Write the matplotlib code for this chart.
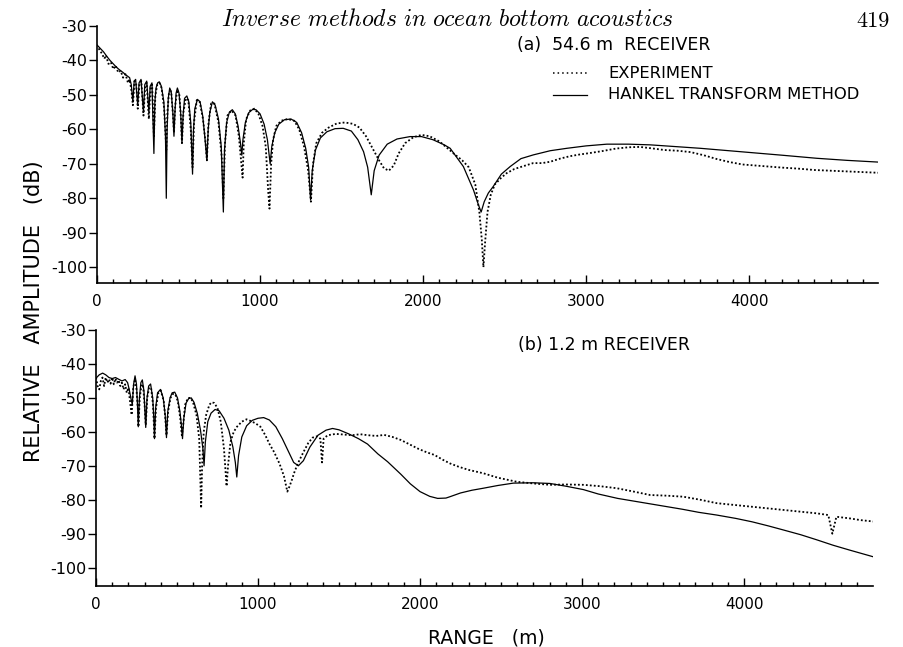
import matplotlib
matplotlib.use("Agg")
import matplotlib.pyplot as plt
import matplotlib.ticker as ticker
from matplotlib.lines import Line2D

plt.rcParams['axes.unicode_minus'] = False
plt.rcParams['font.family'] = ['DejaVu Sans']

# (a) 54.6 m receiver -- Hankel transform result
hankel_a_r = [0, 20, 40, 60, 80, 100, 120, 140, 160, 180, 200,
              210, 220, 228, 237, 250, 258, 270, 285, 293, 305, 318, 326, 337,
              349, 355, 362, 372, 382, 395, 410, 420, 425, 430, 437, 446, 455,
              465, 472, 478, 485, 493, 503, 513, 521, 528, 537, 551, 563, 575,
              586, 592, 600, 616, 632, 648, 661, 674, 682, 692, 708, 725, 745,
              762, 775, 782, 795, 812, 830, 848, 865, 880, 888, 895, 910, 930,
              955, 975, 1000, 1025, 1045, 1062, 1072, 1090, 1115, 1150, 1190,
              1225, 1255, 1280, 1298, 1310, 1320, 1340, 1370, 1410, 1460, 1510,
              1560, 1600, 1635, 1660, 1682, 1700, 1730, 1780, 1840, 1920, 1990,
              2060, 2130, 2166, 2247, 2309, 2340, 2356, 2375, 2400, 2430, 2480,
              2534, 2600, 2677, 2780, 2882, 3000, 3127, 3260, 3393, 3550, 3700,
              3850, 4006, 4200, 4415, 4600, 4790]
hankel_a_db = [-35.5, -36.5, -37.5, -38.8, -40.0, -41.0, -42.0, -42.8, -43.5, -44.3, -45.0,
               -47, -52, -46, -45.5, -53, -46.5, -45.5, -55, -47, -46, -55, -47.5, -46.5,
               -67, -52, -48, -46.5, -46.2, -47.5, -52, -62, -80, -60, -51, -48, -49,
               -55, -62, -55, -49.5, -48, -49.5, -55, -64, -56, -51, -50.3, -52, -58,
               -73, -60, -54, -51.3, -52, -56, -62, -69, -60, -55, -52, -53, -57,
               -65, -84, -66, -58, -55, -54.3, -55.5, -59, -64, -67.5, -63, -58, -55.2,
               -54.2, -54.3, -55.5, -58.5, -63, -70, -65, -61, -58.5, -57.2, -57,
               -58, -61, -65.5, -71, -80.5, -72, -66, -62.5, -60.7, -59.8, -59.7,
               -60.5, -63, -66.5, -71, -79, -72, -67.5, -64.3, -62.8, -62.1, -62.1,
               -63, -64.5, -65.5, -70.8, -77.6, -82, -84, -81, -78.5, -76.6, -73,
               -70.8, -68.5, -67.4, -66.2, -65.5, -64.8, -64.3, -64.3, -64.5, -65, -65.5,
               -66.1, -66.7, -67.5, -68.4, -69, -69.5]

# (a) 54.6 m receiver -- measured
exp_a_r = [10, 30, 45, 55, 70, 85, 100, 115, 130, 145, 160, 175, 190, 200,
           212, 220, 230, 240, 250, 260, 272, 285, 295, 305, 318, 328, 338,
           349, 358, 370, 383, 396, 412, 425, 432, 442, 455, 466, 472, 480,
           492, 505, 515, 521, 530, 545, 560, 575, 586, 595, 612, 630, 650,
           666, 674, 684, 700, 720, 745, 765, 775, 785, 800, 825, 850, 870,
           885, 893, 900, 915, 940, 965, 990, 1015, 1035, 1050, 1058, 1068,
           1080, 1100, 1130, 1170, 1210, 1240, 1270, 1295, 1312, 1325, 1345,
           1380, 1420, 1470, 1520, 1570, 1610, 1650, 1690, 1730, 1760, 1790,
           1820, 1850, 1890, 1940, 1990, 2040, 2100, 2150, 2200, 2240, 2280,
           2320, 2345, 2360, 2370, 2380, 2395, 2415, 2440, 2480, 2513, 2560,
           2620, 2675, 2730, 2780, 2840, 2900, 2960, 3020, 3100, 3180, 3260,
           3330, 3400, 3480, 3560, 3640, 3720, 3800, 3880, 3960, 4040, 4120,
           4200, 4300, 4400, 4500, 4600, 4700, 4790]
exp_a_db = [-36.5, -38, -39.5, -38.5, -41, -40.5, -42.5, -41.5, -43.5, -43, -45, -44, -46.5, -45.5,
            -49, -53, -46, -46.5, -54, -47, -46, -56, -48, -46.5, -57, -48, -47,
            -62, -50, -47, -46.5, -48, -54, -66, -55, -49, -49, -56, -61, -53,
            -48.5, -50, -57, -64, -55, -51, -51.5, -60, -71, -58, -51.5, -52, -57,
            -64, -69, -58, -52.5, -52.5, -58, -68, -80, -64, -56, -54.5, -56, -62,
            -70, -74, -64, -57, -54.5, -54, -55.5, -59, -65, -78, -83, -70,
            -63, -59, -57.5, -57, -57.5, -60, -65, -72, -81, -70, -64,
            -61, -59.5, -58.3, -58, -58.4, -59.5, -62, -65.5, -69, -71.3, -72,
            -70.5, -67, -64, -62.3, -61.6, -62, -63.5, -65.5, -67.5, -69, -71,
            -76, -84, -92, -100, -93, -84, -79, -76, -74, -72.7, -71.5,
            -70.6, -69.8, -69.8, -69.4, -68.5, -67.8, -67.3, -66.9, -66.3, -65.6, -65.2,
            -65.1, -65.5, -66, -66.2, -66.6, -67.5, -68.6, -69.5, -70.2, -70.5, -70.8,
            -71.1, -71.4, -71.8, -72, -72.2, -72.4, -72.6]

# (b) 1.2 m receiver -- Hankel transform result
hankel_b_r = [0, 20, 41, 60, 80, 100, 120, 140, 160, 180, 195, 205, 215, 224,
              232, 241, 250, 256, 261, 268, 277, 286, 296, 302, 307, 315, 325,
              337, 350, 357, 361, 368, 380, 398, 415, 427, 435, 443, 457, 470,
              486, 503, 518, 527, 534, 542, 556, 572, 588, 605, 625, 645, 660,
              667, 675, 690, 710, 735, 760, 790, 820, 845, 860, 869, 880, 900,
              930, 965, 1000, 1035, 1070, 1110, 1150, 1190, 1220, 1249, 1280,
              1320, 1370, 1420, 1460, 1500, 1560, 1620, 1676, 1740, 1800, 1882,
              1940, 2000, 2060, 2109, 2160, 2185, 2250, 2320, 2391, 2480, 2576,
              2700, 2802, 2900, 3008, 3100, 3220, 3320, 3420, 3520, 3620, 3720,
              3831, 3950, 4050, 4150, 4243, 4350, 4449, 4550, 4650, 4798]
hankel_b_db = [-44.2, -43.2, -42.7, -43.2, -44, -44.3, -44, -44.5, -45, -44.6, -45.5, -47.5, -50, -52,
               -46, -43.5, -46, -52, -58.5, -50, -45.5, -44.7, -48, -54, -58.7, -50, -46.5,
               -45.9, -50, -56, -62, -53, -48.5, -47.5, -50, -55, -61.7, -54, -50, -48.5,
               -48.3, -50, -54, -58, -62, -56, -51.5, -50.2, -50, -51.3, -54.5, -59.5, -65,
               -70, -63, -57, -54.5, -53.4, -53.8, -56, -59.5, -64.5, -69, -73.3, -67, -61.5,
               -58.2, -56.6, -56, -55.8, -56.5, -58.5, -62, -66, -69, -70, -68.5,
               -64.5, -61, -59.5, -59, -59.4, -60.6, -62, -63.6, -66.5, -68.8, -72.5,
               -75.3, -77.6, -79, -79.6, -79.5, -79.1, -78, -77.2, -76.6, -75.8, -75.1,
               -75, -75.2, -76, -77, -78.3, -79.6, -80.4, -81.2, -82, -82.8, -83.7,
               -84.5, -85.5, -86.5, -87.7, -88.9, -90.3, -91.8, -93.4, -94.8, -96.8]

# (b) 1.2 m receiver -- measured
exp_b_r = [0, 10, 20, 30, 40, 50, 60, 70, 80, 90, 100, 110, 120, 130, 140, 150,
           160, 170, 180, 190, 200, 210, 220, 230, 241, 250, 258, 262, 270, 280,
           290, 300, 307, 316, 328, 340, 352, 361, 370, 385, 400, 418, 428, 435,
           445, 460, 475, 490, 505, 520, 530, 538, 550, 568, 585, 600, 620, 637,
           645, 649, 655, 665, 680, 700, 714, 730, 750, 770, 790, 806, 815, 830,
           850, 870, 900, 929, 955, 985, 1015, 1045, 1071, 1100, 1133, 1160, 1181,
           1195, 1210, 1222, 1240, 1255, 1280, 1310, 1337, 1365, 1385, 1395, 1405,
           1430, 1480, 1530, 1580, 1630, 1680, 1730, 1779, 1830, 1882, 1940, 1990,
           2040, 2089, 2140, 2185, 2240, 2300, 2391, 2480, 2597, 2700, 2802, 2900,
           3008, 3110, 3214, 3320, 3420, 3525, 3625, 3730, 3831, 3935, 4037, 4140,
           4243, 4345, 4449, 4520, 4545, 4570, 4654, 4720, 4798]
exp_b_db = [-44, -46.5, -47.5, -45, -44, -46.5, -44, -45.5, -44.5, -45.8, -44, -46, -44.3, -45.5, -44.8, -46.5,
            -45.5, -47.5, -46, -48.5, -47, -51, -55, -47, -44.5, -47.5, -53, -58.5, -50, -46.5,
            -46, -52, -58, -50, -47, -47, -52, -62, -53, -48.5, -47.8, -51, -56, -61,
            -54, -50, -48.8, -49, -51, -56, -61, -58, -52, -50, -50, -51.5, -55, -62,
            -75, -82.5, -70, -60, -55, -52, -51.3, -51.5, -53, -57, -65, -76, -70, -63,
            -60, -58.5, -57, -56.3, -56.8, -57.5, -58.5, -61, -63.6, -66, -69.4, -73, -77.6,
            -76, -74, -72.2, -70, -68.4, -66, -63.3, -61.7, -61.3, -62, -69, -62,
            -61, -60.6, -60.8, -61, -60.7, -61, -61.2, -60.9, -61.5, -62.4, -63.8, -65,
            -66, -66.8, -68.2, -69.3, -70.3, -71.2, -72.2, -73.5, -74.7, -75.2, -75.6, -75.5,
            -75.6, -76, -76.6, -77.6, -78.6, -78.8, -79.1, -80, -81, -81.5, -82, -82.5,
            -83, -83.5, -84, -84.5, -90, -85, -85.5, -86, -86.4]

y_ticks = [-100, -90, -80, -70, -60, -50, -40, -30]
x_ticks = [0, 1000, 2000, 3000, 4000]

dotted = (0, (1, 1.2))


def setup(ax, ybottom, xmax):
    ax.set_xlim(0, xmax)
    ax.set_ylim(ybottom, -30)
    for side in ['top', 'right']:
        ax.spines[side].set_visible(False)
    for side in ['left', 'bottom']:
        ax.spines[side].set_linewidth(1.2)
    ax.yaxis.set_major_locator(ticker.FixedLocator(y_ticks))
    ax.yaxis.set_major_formatter(ticker.FixedFormatter([str(v) for v in y_ticks]))
    ax.xaxis.set_major_locator(ticker.FixedLocator(x_ticks))
    ax.xaxis.set_minor_locator(ticker.MultipleLocator(100))
    ax.tick_params(axis='y', direction='out', length=6, width=1.0, pad=1, labelsize=11.5)
    ax.tick_params(axis='x', which='major', direction='in', length=6, width=1.0, pad=8, labelsize=11)
    ax.tick_params(axis='x', which='minor', direction='in', length=3, width=1.0)


fig = plt.figure(figsize=(9.04, 6.47), dpi=100)

ax_a = fig.add_axes([97 / 904, 1 - 283 / 647, 781 / 904, 257 / 647])
ax_a.plot(exp_a_r, exp_a_db, color='black', lw=1.3, linestyle=dotted)
ax_a.plot(hankel_a_r, hankel_a_db, color='black', lw=0.9)
setup(ax_a, -104.6, 4790)

ax_b = fig.add_axes([96 / 904, 1 - 586 / 647, 777 / 904, 256 / 647])
ax_b.plot(exp_b_r, exp_b_db, color='black', lw=1.3, linestyle=dotted)
ax_b.plot(hankel_b_r, hankel_b_db, color='black', lw=0.9)
setup(ax_b, -105.4, 4796)

# running head of the page
fig.text(447 / 904, 1 - 19 / 647, r'$\mathit{Inverse\ methods\ in\ ocean\ bottom\ acoustics}$',
         math_fontfamily='cm', fontsize=17, ha='center', va='center')
fig.text(890 / 904, 1 - 21 / 647, '419', family='cmr10', fontsize=16, ha='right', va='center')

fig.text(517 / 904, 1 - 45 / 647, '(a)  54.6 m  RECEIVER', fontsize=12.5, ha='left', va='center')
fig.text(518 / 904, 1 - 345 / 647, '(b) 1.2 m RECEIVER', fontsize=12.5, ha='left', va='center')

# legend
fig.add_artist(Line2D([553 / 904, 587 / 904], [1 - 73 / 647, 1 - 73 / 647],
                      color='black', lw=1.1, linestyle=(0, (1, 2))))
fig.add_artist(Line2D([553 / 904, 587 / 904], [1 - 94.5 / 647, 1 - 94.5 / 647],
                      color='black', lw=0.9))
fig.text(608 / 904, 1 - 73 / 647, 'EXPERIMENT', fontsize=11.8, ha='left', va='center')
fig.text(608 / 904, 1 - 94.5 / 647, 'HANKEL TRANSFORM METHOD', fontsize=11.8, ha='left', va='center')

fig.text(34 / 904, 1 - 311 / 647, 'RELATIVE   AMPLITUDE   (dB)', fontsize=15,
         rotation=90, ha='center', va='center')
fig.text(486 / 904, 1 - 638 / 647, 'RANGE   (m)', fontsize=13.5, ha='center', va='center')

fig.savefig('out.png', dpi=100)
